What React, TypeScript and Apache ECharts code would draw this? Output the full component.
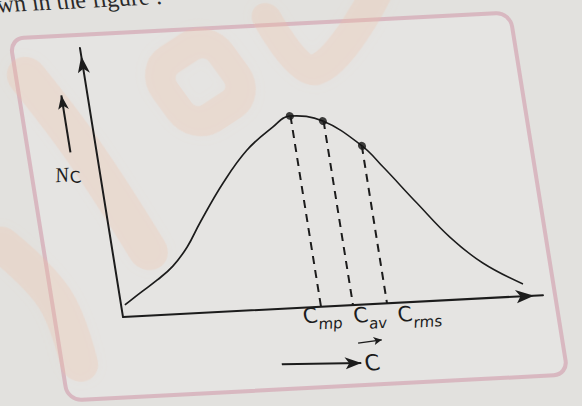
import React, { useEffect, useRef } from "react";
import * as echarts from "echarts";

// Distribution of molecular speeds: number of molecules N_C against speed C (arbitrary units)
const speeds = [0.9, 4.9, 9.5, 13.7, 17.8, 21.7, 28.7, 35.6, 42.6, 47.0, 54.6, 62.9, 67.1, 73.7, 80.2, 87.0, 95.7];
const counts = [4.4, 8.5, 13.0, 17.8, 24.6, 33.2, 47.5, 59.2, 67.2, 70.9, 68.4, 58.5, 50.3, 36.4, 23.2, 13.0, 4.5];

// Characteristic speeds: most probable, average, root mean square
const markSpeeds = [47.0, 54.6, 62.9];
const markCounts = [70.9, 68.4, 58.5];
const markSubscripts = ["mp", "av", "rms"];

const INK = "#1c1c1c";
const PAPER = "#e2e1de";
const WASH = "rgba(238, 190, 165, 0.25)";

// label anchors below the speed axis (C centre, subscript start)
const labelAnchors = [
  [328.7, 335.2],
  [378.9, 337.3],
  [423.1, 338.6],
];

function washBand(points: number[][], width: number) {
  return {
    type: "polyline",
    z: -15,
    shape: { points, smooth: 0.4 },
    style: {
      stroke: WASH,
      lineWidth: width,
      fill: "none",
      lineCap: "round",
      lineJoin: "round",
      shadowBlur: 12,
      shadowColor: "rgba(238, 190, 165, 0.22)",
    },
  };
}

function buildOption(): echarts.EChartsOption {
  const curve = speeds.map((s, i) => [s, counts[i]]);
  const marks = markSpeeds.map((s, i) => [s, markCounts[i]]);

  const graphic: any[] = [
    // printed frame of the figure
    {
      type: "rect",
      z: -20,
      shape: { x: 75, y: 45, width: 500, height: 362, r: 14 },
      style: { fill: "rgba(255,255,255,0.16)", stroke: "#d4a9b5", lineWidth: 4, opacity: 0.75 },
    },
    // faint watermark wash
    {
      type: "rect",
      z: -15,
      shape: { x: 222, y: 64, width: 70, height: 68, r: 22 },
      rotation: 0.5,
      originX: 257,
      originY: 98,
      style: {
        fill: "none",
        stroke: WASH,
        lineWidth: 30,
        shadowBlur: 12,
        shadowColor: "rgba(238, 190, 165, 0.22)",
      },
    },
    washBand([[333, 38], [372, 92], [446, 18]], 30),
    washBand([[86, 84], [130, 160], [178, 262]], 40),
    washBand([[35, 250], [78, 305], [92, 370]], 38),
    // running text above the figure
    {
      type: "text",
      z: 10,
      x: 67,
      y: 22,
      style: {
        text: "wn in the figure :",
        fontSize: 24,
        fontFamily: "Liberation Serif",
        fill: "#2a2a2a",
        align: "left",
        verticalAlign: "bottom",
      },
    },
    // N_C label of the count axis
    {
      type: "text",
      z: 10,
      x: 105,
      y: 183,
      style: {
        text: "N",
        fontSize: 21,
        fontStyle: "italic",
        fontFamily: "Liberation Serif",
        fill: INK,
        align: "center",
        verticalAlign: "middle",
      },
    },
    {
      type: "text",
      z: 10,
      x: 118,
      y: 186,
      style: {
        text: "C",
        fontSize: 16,
        fontFamily: "DejaVu Sans",
        fill: INK,
        align: "center",
        verticalAlign: "middle",
      },
    },
    // speed C with vector sign
    {
      type: "text",
      z: 10,
      x: 383,
      y: 385,
      style: {
        text: "C",
        fontSize: 22,
        fontFamily: "DejaVu Sans",
        fill: INK,
        align: "center",
        verticalAlign: "middle",
      },
    },
  ];

  markSubscripts.forEach((sub, i) => {
    const [cx, cy] = labelAnchors[i];
    graphic.push({
      type: "text",
      z: 10,
      x: cx,
      y: cy,
      style: {
        text: "C",
        fontSize: 21,
        fontFamily: "DejaVu Sans",
        fill: INK,
        align: "center",
        verticalAlign: "middle",
      },
    });
    graphic.push({
      type: "text",
      z: 10,
      x: cx + 7,
      y: cy + 9,
      style: {
        text: sub,
        fontSize: 15,
        fontStyle: "italic",
        fontFamily: "DejaVu Sans",
        fill: INK,
        align: "left",
        verticalAlign: "middle",
      },
    });
  });

  return {
    animation: false,
    backgroundColor: "transparent",
    grid: { left: 143, top: 58, right: 117, bottom: 133, containLabel: false },
    xAxis: {
      type: "value",
      min: 0,
      max: 100,
      axisLine: {
        show: true,
        lineStyle: { color: INK, width: 2 },
        symbol: ["none", "arrow"],
        symbolSize: [10, 18],
        symbolOffset: [0, -9],
      },
      axisTick: { show: false },
      axisLabel: { show: false },
      splitLine: { show: false },
    },
    yAxis: {
      type: "value",
      min: 0,
      max: 100,
      axisLine: {
        show: true,
        lineStyle: { color: INK, width: 2 },
        symbol: ["none", "arrow"],
        symbolSize: [9, 17],
        symbolOffset: [0, -8],
      },
      axisTick: { show: false },
      axisLabel: { show: false },
      splitLine: { show: false },
    },
    graphic,
    series: [
      {
        name: "N_C",
        type: "line",
        data: curve,
        smooth: 0.4,
        showSymbol: false,
        symbol: "none",
        lineStyle: { color: INK, width: 1.6 },
        z: 3,
        markLine: {
          silent: true,
          symbol: ["none", "arrow"],
          label: { show: false },
          lineStyle: { color: INK, width: 2, type: "solid" },
          data: [
            [
              { x: 117, y: 161, symbol: "none" },
              { x: 117, y: 104, symbol: "arrow", symbolSize: [8, 14] },
            ],
            [
              { x: 293, y: 382, symbol: "none" },
              { x: 372, y: 385, symbol: "arrow", symbolSize: [9, 16] },
            ],
            [
              { x: 372, y: 365, symbol: "none", lineStyle: { width: 1.4 } },
              { x: 396, y: 363, symbol: "arrow", symbolSize: [6, 8] },
            ],
          ] as any,
        },
      },
      {
        name: "speeds",
        type: "scatter",
        data: marks,
        symbol: "circle",
        symbolSize: 8,
        itemStyle: { color: "#111" },
        z: 4,
        markLine: {
          silent: true,
          symbol: ["none", "none"],
          label: { show: false },
          lineStyle: { color: INK, width: 2, type: [8, 6] },
          data: marks.map(([s, c]) => [{ coord: [s, c] }, { coord: [s, 0] }]) as any,
        },
      },
    ],
  };
}

export default function App() {
  const ref = useRef<HTMLDivElement>(null);

  useEffect(() => {
    if (!ref.current) return;
    const chart = echarts.init(ref.current, null, { renderer: "svg" });
    chart.setOption(buildOption());
    return () => chart.dispose();
  }, []);

  return (
    <div
      style={{
        position: "fixed",
        left: 0,
        top: 0,
        width: 582,
        height: 406,
        overflow: "hidden",
        background: PAPER,
      }}
    >
      <div
        ref={ref}
        style={{
          position: "absolute",
          left: -20,
          top: -10,
          width: 680,
          height: 460,
          transformOrigin: "143px 327px",
          transform: "matrix(1, -0.052, 0.16, 1, 0, 0)",
        }}
      />
    </div>
  );
}
